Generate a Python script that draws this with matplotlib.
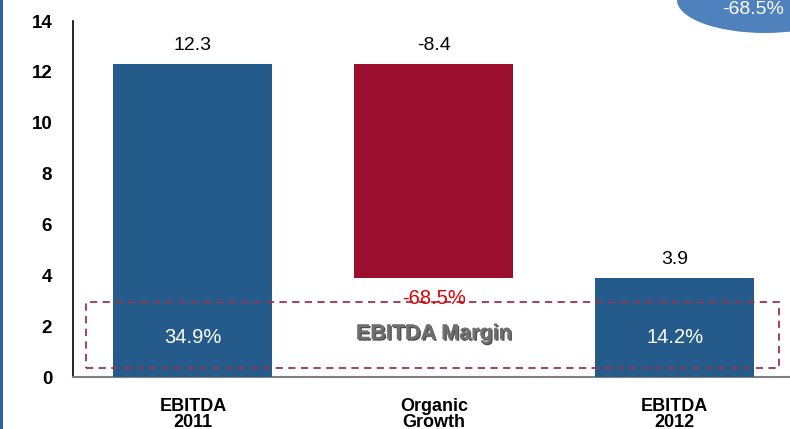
import matplotlib
matplotlib.use("Agg")
import matplotlib.pyplot as plt
from matplotlib.patches import Rectangle, Ellipse
import matplotlib.patheffects as pe

categories = ["EBITDA\n2011", "Organic\nGrowth", "EBITDA\n2012"]
values = [12.3, -8.4, 3.9]
margins = ["34.9%", None, "14.2%"]
margin_change = "-68.5%"
margin_label = "EBITDA Margin"
yticks = [0, 2, 4, 6, 8, 10, 12, 14]

W, H = 790, 429
fig = plt.figure(figsize=(W / 100, H / 100), dpi=100)
fig.patch.set_facecolor("white")

# left blue stripe
fig.patches.append(Rectangle((0, 0), 3 / W, 1, transform=fig.transFigure,
                             facecolor="#2e6399", edgecolor="none"))

ax = fig.add_axes([73 / W, (H - 377) / H, (W - 73) / W, (377 - 21) / H])
ax.set_facecolor("none")

# waterfall
bottoms = [0, values[0] + values[1], 0]
heights = [values[0], -values[1], values[2]]
colors = ["#255b8a", "#9b0e2e", "#255b8a"]
x = list(range(len(categories)))
ax.bar(x, heights, bottom=bottoms, width=0.66, color=colors, zorder=3)

ax.set_xlim(-0.498, 2.479)
ax.set_ylim(0, 14)
ax.set_yticks(yticks)
ax.set_yticklabels([str(t) for t in yticks], fontsize=13.5, fontweight="bold",
                   family=["Liberation Sans"])
ax.tick_params(axis="y", length=0, pad=15)
ax.set_xticks(x)
ax.set_xticklabels(categories, fontsize=13, fontweight="bold",
                   family=["Liberation Sans"], linespacing=0.9)
ax.tick_params(axis="x", length=0, pad=15)
for s in ["top", "right"]:
    ax.spines[s].set_visible(False)
ax.spines["left"].set_color("black")
ax.spines["left"].set_linewidth(1.2)
ax.spines["bottom"].set_color("#808080")
ax.spines["bottom"].set_linewidth(1.5)

# value labels
tops = [values[0], values[0], values[2]]
for xi, top, v in zip(x, tops, values):
    ax.text(xi, top + 0.4, f"{v:.1f}", ha="center", va="bottom", fontsize=14,
            family=["Liberation Sans"], color="black")

# margin box
ax.add_patch(Rectangle((-0.442, 0.35), 2.434 + 0.442, 2.96 - 0.35, fill=False,
                       edgecolor="#a03050", linestyle=(0, (4, 3)), linewidth=1.3,
                       zorder=4))
for xi, m in zip(x, margins):
    if m:
        ax.text(xi, 1.55, m, ha="center", va="center", fontsize=14.5, color="white",
                family=["Liberation Sans"], zorder=5)
ax.text(1, 1.7, margin_label, ha="center", va="center", fontsize=15.5,
        fontweight="bold", color="#6f6f6f", family=["Liberation Sans"], zorder=5,
        path_effects=[pe.withSimplePatchShadow(offset=(1, -1), shadow_rgbFace="#222222",
                                               alpha=0.8), pe.Normal()])
ax.text(1, 3.1, margin_change, ha="center", va="center", fontsize=14.5, color="#e00000",
        family=["Liberation Sans"], zorder=5)

# ellipse callout
fig.patches.append(Ellipse((765 / W, (H - 0) / H), 176 / W, 66 / H,
                           transform=fig.transFigure, facecolor="#4f81bd",
                           edgecolor="none"))
fig.text(753 / W, (H - 9) / H, margin_change, ha="center", va="center", fontsize=14,
         color="white", family=["Liberation Sans"])

fig.savefig("out.png", dpi=100)
